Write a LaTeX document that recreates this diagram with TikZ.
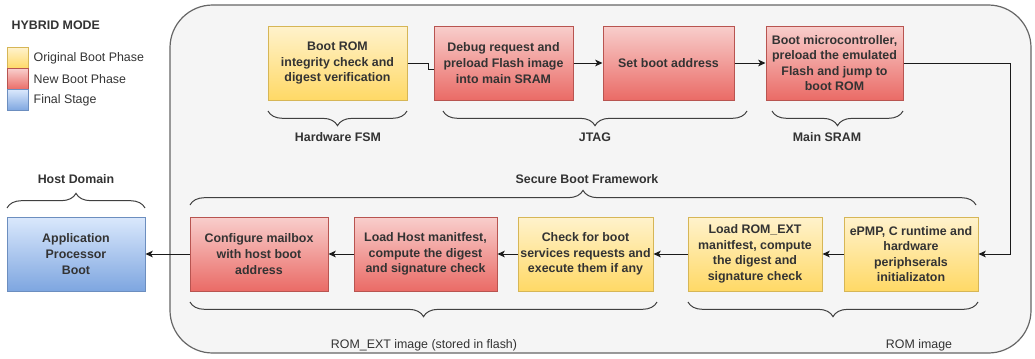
\documentclass[tikz,border=0pt]{standalone}
\usepackage{fontspec}
\setmainfont{Liberation Sans}
\usetikzlibrary{decorations.pathreplacing,arrows.meta}

\definecolor{txt}{HTML}{333333}
\definecolor{ytop}{HTML}{FFF2CC}\definecolor{ybot}{HTML}{FFD966}\definecolor{yline}{HTML}{D6B656}
\definecolor{rtop}{HTML}{F8CECC}\definecolor{rbot}{HTML}{EA6B66}\definecolor{rline}{HTML}{B85450}
\definecolor{btop}{HTML}{DAE8FC}\definecolor{bbot}{HTML}{7EA6E0}\definecolor{bline}{HTML}{6C8EBF}
\definecolor{panel}{HTML}{F5F5F5}\definecolor{panelline}{HTML}{666666}
\definecolor{wire}{HTML}{1A1A1A}\definecolor{bracec}{HTML}{404040}

\tikzset{
  stage/.style={minimum height=55.5pt, inner sep=0pt, align=center, text=txt,
    font=\bfseries\fontsize{9.3}{11.7}\selectfont, line width=0.75pt},
  orig/.style={stage, draw=yline, top color=ytop, bottom color=ybot},
  newb/.style={stage, draw=rline, top color=rtop, bottom color=rbot},
  final/.style={stage, draw=bline, top color=btop, bottom color=bbot},
  chip/.style={minimum width=15.75pt, minimum height=15.75pt, inner sep=0pt, line width=0.75pt},
  legtext/.style={anchor=west, text=txt, font=\fontsize{9.3}{11}\selectfont},
  conn/.style={draw=wire, line width=0.75pt, -{Stealth[length=5.5pt,width=5pt,inset=1.5pt]}},
  grp/.style={draw=bracec, line width=0.75pt, decorate, decoration={brace, amplitude=11pt}},
  grplabel/.style={text=txt, font=\bfseries\fontsize{9.3}{11}\selectfont},
  grpplain/.style={text=txt, font=\fontsize{9.3}{11}\selectfont},
}

\begin{document}
\begin{tikzpicture}[x=0.75pt, y=-0.75pt]
\useasboundingbox (0,0) rectangle (1035,358);

% framework panel
\draw[fill=panel, draw=panelline, line width=0.9pt, rounded corners=32pt] (170,5) rectangle (1031,353);

% legend
\node[font=\bfseries\fontsize{9.3}{11}\selectfont, text=txt, anchor=west] (legtitle) at (7,25) {HYBRID MODE};
\node[chip, draw=yline, top color=ytop, bottom color=ybot, anchor=north west] (chipA) at (7,47) {};
\node[chip, draw=rline, top color=rtop, bottom color=rbot, anchor=north west] (chipB) at (7,68) {};
\node[chip, draw=bline, top color=btop, bottom color=bbot, anchor=north west] (chipC) at (7,89) {};
\node[legtext] (legA) at (29,58) {Original Boot Phase};
\node[legtext] (legB) at (29,79) {New Boot Phase};
\node[legtext] (legC) at (29,100) {Final Stage};

% top row
\node[orig, minimum width=104.25pt] (b1) at (337.5,63) {Boot ROM\\integrity check and\\digest verification};
\node[newb, minimum width=104.25pt] (b2) at (503.5,63) {Debug request and\\preload Flash image\\into main SRAM};
\node[newb, minimum width=98.25pt] (b3) at (668.5,63) {Set boot address};
\node[newb, minimum width=102.75pt] (b4) at (834.5,63) {Boot microcontroller,\\preload the emulated\\Flash and jump to\\boot ROM};

% bottom row
\node[final, minimum width=103.5pt] (app) at (76,254) {Application\\Processor\\Boot};
\node[newb, minimum width=103.5pt] (mail) at (259,254) {Configure mailbox\\with host boot\\address};
\node[newb, minimum width=107.25pt] (host) at (425.5,254) {Load Host manitfest,\\compute the digest\\and signature check};
\node[orig, minimum width=101.25pt] (check) at (585.5,254) {Check for boot\\services requests and\\execute them if any};
\node[orig, minimum width=100.5pt] (romext) at (755,254) {Load ROM\_EXT\\manitfest, compute\\the digest and\\signature check};
\node[orig, minimum width=100.5pt] (epmp) at (911,254) {ePMP, C runtime and\\hardware\\periphserals\\initializaton};

% connectors
\draw[draw=wire, line width=0.75pt] (b1.east) -- ++(21,0) |- ([yshift=-5pt]b2.west);
\draw[conn] (b2) -- (b3);
\draw[conn] (b3) -- (b4);
\coordinate (turn) at (1010,63);
\draw[conn] (b4.east) -- (turn) |- (epmp.east);
\draw[conn] (epmp) -- (romext);
\draw[conn] (romext) -- (check);
\draw[conn] (check) -- (host);
\draw[conn] (host) -- (mail);
\draw[conn] (mail) -- (app);

% group braces
\draw[grp] (407,111) -- (268,111);
\node[grplabel] (lblfsm) at (338,137) {Hardware FSM};
\draw[grp] (747,111) -- (443,111);
\node[grplabel] (lbljtag) at (595,137) {JTAG};
\draw[grp] (903,111) -- (772,111);
\node[grplabel] (lblsram) at (827,137) {Main SRAM};

\draw[grp] (7,208) -- (145,208);
\node[grplabel] (lblhost) at (76,179) {Host Domain};
\draw[grp] (190,205) -- (976,205);
\node[grplabel] (lblsbf) at (587,179) {Secure Boot Framework};

\draw[grp] (657,302) -- (190,302);
\node[grpplain] (lblromext) at (424,345) {ROM\_EXT image (stored in flash)};
\draw[grp] (978,302) -- (688,302);
\node[grpplain] (lblrom) at (919,345) {ROM image};
\end{tikzpicture}
\end{document}
